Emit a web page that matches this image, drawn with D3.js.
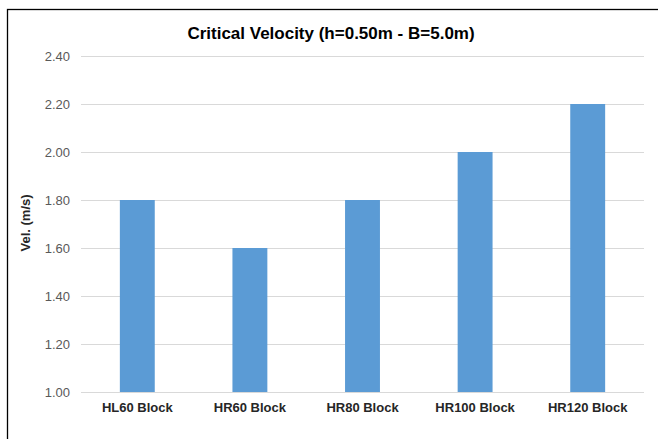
<!DOCTYPE html>
<html>
<head>
<meta charset="utf-8">
<script src="https://cdn.jsdelivr.net/npm/d3@7"></script>
<style>
  html, body { margin: 0; padding: 0; background: #fff; }
  svg { display: block; font-family: "Liberation Sans", Arial, sans-serif; }
</style>
</head>
<body>
<svg id="chart" width="658" height="439"></svg>
<script>
// Critical velocity per block type
const categories = ["HL60 Block", "HR60 Block", "HR80 Block", "HR100 Block", "HR120 Block"];
const velocities = [1.80, 1.60, 1.80, 2.00, 2.20];
const yTicks = [1.00, 1.20, 1.40, 1.60, 1.80, 2.00, 2.20, 2.40];
const chartTitle = "Critical Velocity (h=0.50m - B=5.0m)";
const yTitle = "Vel. (m/s)";

const svg = d3.select("#chart");
const W = 658, H = 439;
const plot = { left: 81, right: 644, top: 56, bottom: 392 };

// outer frame (open to the right and bottom edge)
svg.append("rect")
  .attr("x", 7.5).attr("y", 9.5)
  .attr("width", W + 10).attr("height", H + 10)
  .attr("fill", "#fff").attr("stroke", "#000").attr("stroke-width", 1.3);

const x = d3.scaleBand()
  .domain(categories)
  .range([plot.left, plot.right])
  .paddingInner(0.69).paddingOuter(0.345);

const y = d3.scaleLinear()
  .domain([1.0, 2.4])
  .range([plot.bottom, plot.top]);

// gridlines + y tick labels
const yAxis = d3.axisLeft(y)
  .tickValues(yTicks)
  .tickFormat(d3.format(".2f"))
  .tickSize(-(plot.right - plot.left))
  .tickPadding(11);

const gy = svg.append("g")
  .attr("transform", `translate(${plot.left},0)`)
  .call(yAxis);
gy.select(".domain").remove();
gy.selectAll(".tick line").attr("stroke", "#d9d9d9").attr("stroke-width", 1);
gy.selectAll(".tick text")
  .attr("fill", "#595959")
  .attr("font-size", "13px");

// bars
svg.append("g").selectAll("rect")
  .data(categories.map((c, i) => ({ c, v: velocities[i] })))
  .join("rect")
  .attr("x", d => x(d.c))
  .attr("y", d => y(d.v))
  .attr("width", x.bandwidth())
  .attr("height", d => y(1.0) - y(d.v))
  .attr("fill", "#5b9bd5");

// category labels
const xAxis = d3.axisBottom(x).tickSize(0).tickPadding(11);
const gx = svg.append("g")
  .attr("transform", `translate(0,${plot.bottom})`)
  .call(xAxis);
gx.select(".domain").remove();
gx.selectAll(".tick text")
  .attr("fill", "#262626")
  .attr("font-size", "13px")
  .attr("font-weight", "bold");

// title
svg.append("text")
  .attr("x", 331).attr("y", 39)
  .attr("text-anchor", "middle")
  .attr("font-size", "17px")
  .attr("font-weight", "bold")
  .attr("fill", "#000")
  .text(chartTitle);

// y-axis title
svg.append("text")
  .attr("transform", `translate(30,${223}) rotate(-90)`)
  .attr("text-anchor", "middle")
  .attr("font-size", "13px")
  .attr("font-weight", "bold")
  .attr("fill", "#262626")
  .text(yTitle);
</script>
</body>
</html>
